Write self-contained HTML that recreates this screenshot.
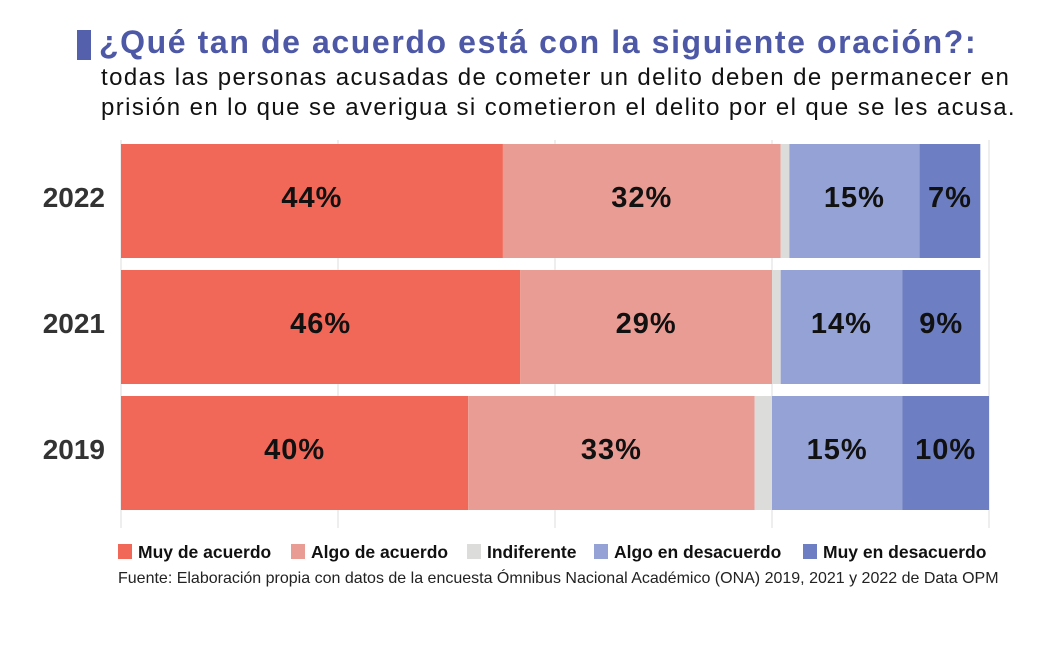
<!DOCTYPE html>
<html><head><meta charset="utf-8"><style>
body{margin:0;width:1062px;height:664px;background:#fff;font-family:"Liberation Sans",sans-serif;overflow:hidden;position:relative}
.t{position:absolute;white-space:nowrap}
</style></head><body>
<div style="position:absolute;left:77px;top:30px;width:14px;height:30px;background:#5560ad"></div>
<div class="t" style="left:99px;top:24px;font-size:32px;letter-spacing:1.6px;font-weight:bold;color:#4d58a6">¿Qué tan de acuerdo está con la siguiente oración?:</div>
<div class="t" style="left:101px;top:63px;font-size:24px;letter-spacing:1.4px;line-height:30px;color:#111">todas las personas acusadas de cometer un delito deben de permanecer en<br>prisión en lo que se averigua si cometieron el delito por el que se les acusa.</div>
<svg id="chart" width="1062" height="664" style="position:absolute;left:0;top:0"></svg>
<div class="t" style="left:118px;top:570px;font-size:16px;color:#222">Fuente: Elaboración propia con datos de la encuesta Ómnibus Nacional Académico (ONA) 2019, 2021 y 2022 de Data OPM</div>
<script>
const years=["2022","2021","2019"];
const muyAcuerdo=[44,46,40];
const algoAcuerdo=[32,29,33];
const indiferente=[1,1,2];
const algoDesacuerdo=[15,14,15];
const muyDesacuerdo=[7,9,10];
const seriesNames=["Muy de acuerdo","Algo de acuerdo","Indiferente","Algo en desacuerdo","Muy en desacuerdo"];
const colors=["#f26858","#e89c93","#dcdcda","#95a2d5","#6d7fc2"];
const gridTicks=[0,25,50,75,100];
const series=[muyAcuerdo,algoAcuerdo,indiferente,algoDesacuerdo,muyDesacuerdo];
const NS="http://www.w3.org/2000/svg";
const svg=document.getElementById('chart');
const x0=121,x1=989;
const xs=v=>x0+(x1-x0)*v/100;
const rowH=114;
const ys=i=>144+i*126;
function el(t,a){const e=document.createElementNS(NS,t);for(const k in a)e.setAttribute(k,a[k]);svg.appendChild(e);return e;}
gridTicks.forEach(g=>{
  const l=el('line',{x1:xs(g),x2:xs(g),y1:140,y2:528,stroke:'#ddd','stroke-width':1});
  
  
});
years.forEach((y,i)=>{
  const yt=ys(i);
  const lab=el('text',{x:105,y:yt+rowH/2+6,'text-anchor':'end','font-size':28,'font-weight':'bold',fill:'#333','font-family':'Liberation Sans, sans-serif'});
  lab.textContent=y;
  
  
  let acc=0;
  series.forEach((s,j)=>{
    const v=s[i];
    const r=el('rect',{x:xs(acc),y:yt,width:xs(acc+v)-xs(acc),height:rowH,fill:colors[j]});
    
    
    if(v>=5){
      const t=el('text',{x:(xs(acc)+xs(acc+v))/2,y:yt+rowH/2+6,'text-anchor':'middle','font-size':29,'letter-spacing':1,'font-weight':'bold',fill:'#111','font-family':'Liberation Sans, sans-serif'});
      t.textContent=v+'%';
      
      
    }
    acc+=v;
  });
});
const legX=[118,291,467,594,803];
seriesNames.forEach((n,j)=>{
  const r=el('rect',{x:legX[j],y:544,width:14,height:15,fill:colors[j]});
  
  
  const t=el('text',{x:legX[j]+20,y:558,'font-size':17.5,'font-weight':'bold',fill:'#111','font-family':'Liberation Sans, sans-serif'});
  t.textContent=n;
  
  
});
</script>
</body></html>
